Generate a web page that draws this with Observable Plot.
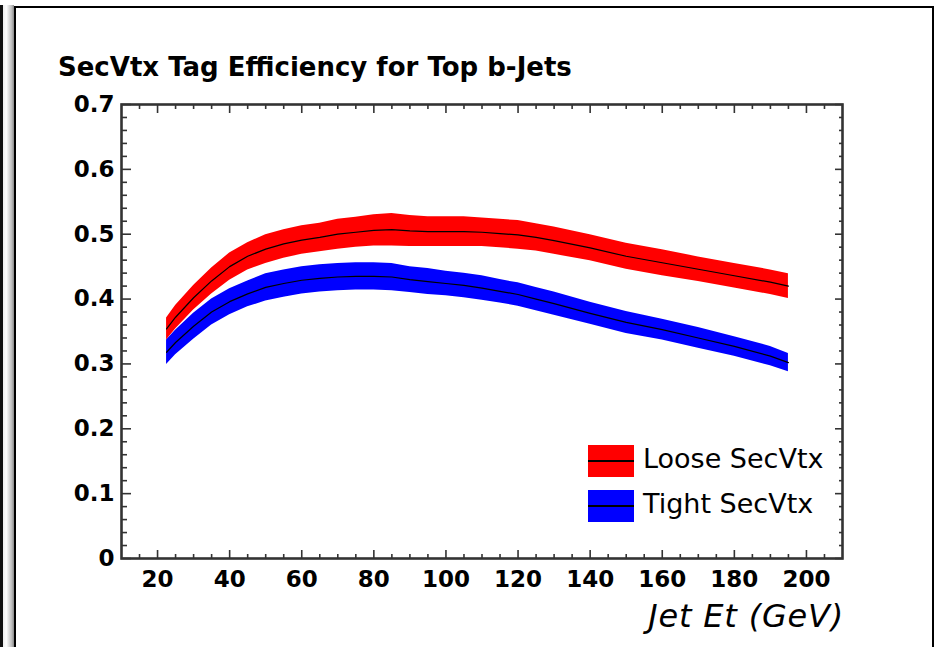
<!DOCTYPE html>
<html>
<head>
<meta charset="utf-8">
<script src="https://cdn.jsdelivr.net/npm/d3@7"></script>
<script src="https://cdn.jsdelivr.net/npm/@observablehq/plot@0.6"></script>
<style>
  body { margin: 0; background: #fff; }
  #page { position: relative; width: 934px; height: 647px; overflow: hidden; background: #fff; }
  .abs { position: absolute; }
  #title { left: 58px; top: 54px; font: bold 26px/26px "DejaVu Sans", sans-serif; color: #000; white-space: nowrap; }
  #xlabel { right: 90px; top: 600px; font: oblique 32px/32px "DejaVu Sans", sans-serif; letter-spacing: 0.8px; color: #000; white-space: nowrap; }
  .lg-box { position: absolute; width: 46px; height: 32px; }
  .lg-box::after { content: ""; position: absolute; left: 0; right: 0; top: 15px; height: 1.5px; background: #000; }
  .lg-text { position: absolute; font: 27px/27px "DejaVu Sans", sans-serif; color: #000; white-space: nowrap; }
  #chart { position: absolute; left: 0; top: 90px; }
</style>
</head>
<body>
<div id="page">
  <div class="abs" style="left:0;top:5px;width:3px;height:642px;background:#111"></div>
  <div class="abs" style="left:3px;top:5px;width:11px;height:642px;background:linear-gradient(to right,#eee,#fff 30%,#bbb 80%,#888)"></div>
  <div class="abs" style="left:14px;top:6px;width:916px;height:660px;border:2px solid #000"></div>
  <div id="title" class="abs">SecVtx Tag Efficiency for Top b-Jets</div>
  <div id="chart"></div>
  <div id="legend"></div>
  <div id="xlabel" class="abs">Jet Et (GeV)</div>
</div>
<script>
// ---- data ----
const Et = [22.5, 25, 30, 35, 40, 45, 50, 55, 60, 65, 70, 75, 80, 85, 90, 95, 100, 105, 110, 115, 120, 125, 130, 140, 150, 160, 170, 180, 190, 195];
const looseEff = [0.354, 0.372, 0.402, 0.428, 0.450, 0.466, 0.477, 0.485, 0.491, 0.495, 0.500, 0.503, 0.506, 0.507, 0.505, 0.504, 0.504, 0.504, 0.503, 0.501, 0.499, 0.495, 0.490, 0.479, 0.466, 0.456, 0.446, 0.436, 0.426, 0.420];
const looseErr = [0.017, 0.018, 0.019, 0.020, 0.021, 0.021, 0.022, 0.022, 0.022, 0.022, 0.023, 0.023, 0.024, 0.025, 0.024, 0.023, 0.023, 0.023, 0.022, 0.022, 0.022, 0.021, 0.021, 0.020, 0.020, 0.020, 0.019, 0.019, 0.019, 0.019];
const tightEff = [0.318, 0.333, 0.358, 0.380, 0.396, 0.408, 0.418, 0.424, 0.429, 0.432, 0.434, 0.435, 0.435, 0.434, 0.430, 0.427, 0.424, 0.421, 0.417, 0.412, 0.407, 0.400, 0.393, 0.378, 0.364, 0.353, 0.340, 0.327, 0.312, 0.302];
const tightErr = [0.019, 0.019, 0.020, 0.020, 0.020, 0.020, 0.021, 0.021, 0.021, 0.021, 0.021, 0.021, 0.021, 0.021, 0.020, 0.020, 0.019, 0.019, 0.019, 0.018, 0.018, 0.018, 0.018, 0.017, 0.017, 0.016, 0.016, 0.015, 0.015, 0.014];
const seriesNames = ["Loose SecVtx", "Tight SecVtx"];
const seriesColors = ["#ff0000", "#0000ff"];
const xTicks = [20, 40, 60, 80, 100, 120, 140, 160, 180, 200];
const xMinorTicks = [15, 25, 30, 35, 45, 50, 55, 65, 70, 75, 85, 90, 95, 105, 110, 115, 125, 130, 135, 145, 150, 155, 165, 170, 175, 185, 190, 195, 205];
const yTicks = [0, 0.1, 0.2, 0.3, 0.4, 0.5, 0.6, 0.7];
const yTickLabels = ["0", "0.1", "0.2", "0.3", "0.4", "0.5", "0.6", "0.7"];
const yMinorTicks = [0.02, 0.04, 0.06, 0.08, 0.12, 0.14, 0.16, 0.18, 0.22, 0.24, 0.26, 0.28, 0.32, 0.34, 0.36, 0.38, 0.42, 0.44, 0.46, 0.48, 0.52, 0.54, 0.56, 0.58, 0.62, 0.64, 0.66, 0.68];

const loose = Et.map((e, i) => ({Et: e, eff: looseEff[i], lo: looseEff[i] - looseErr[i], hi: looseEff[i] + looseErr[i]}));
const tight = Et.map((e, i) => ({Et: e, eff: tightEff[i], lo: tightEff[i] - tightErr[i], hi: tightEff[i] + tightErr[i]}));

const axisColor = "#333";
const tickOpts = {stroke: axisColor, strokeWidth: 1.6, tickFormat: () => "", label: null};

const chart = Plot.plot({
  width: 934,
  height: 557,
  marginLeft: 121,
  marginRight: 92,
  marginTop: 14,
  marginBottom: 89,
  style: {background: "transparent", overflow: "visible", fontFamily: "DejaVu Sans, sans-serif", fontSize: "23px", fontWeight: "bold", color: "#000"},
  x: {domain: [10, 210]},
  y: {domain: [0, 0.7]},
  marks: [
    Plot.areaY(loose, {x: "Et", y1: "lo", y2: "hi", fill: seriesColors[0]}),
    Plot.lineY(loose, {x: "Et", y: "eff", stroke: "#000", strokeWidth: 1.2}),
    Plot.areaY(tight, {x: "Et", y1: "lo", y2: "hi", fill: seriesColors[1]}),
    Plot.lineY(tight, {x: "Et", y: "eff", stroke: "#000", strokeWidth: 1.2}),
    // inward ticks (ROOT style), mirrored on all four sides
    Plot.axisX(xTicks, {anchor: "bottom", tickSize: -8, ...tickOpts}),
    Plot.axisX(xMinorTicks, {anchor: "bottom", tickSize: -4, ...tickOpts}),
    Plot.axisX(xTicks, {anchor: "top", tickSize: -8, ...tickOpts}),
    Plot.axisX(xMinorTicks, {anchor: "top", tickSize: -4, ...tickOpts}),
    Plot.axisY(yTicks, {anchor: "left", tickSize: -10, ...tickOpts}),
    Plot.axisY(yMinorTicks, {anchor: "left", tickSize: -6, ...tickOpts}),
    Plot.axisY(yTicks, {anchor: "right", tickSize: -8, ...tickOpts}),
    Plot.axisY(yMinorTicks, {anchor: "right", tickSize: -4, ...tickOpts}),
    // labels
    Plot.axisX(xTicks, {anchor: "bottom", tickSize: 0, tickPadding: 12, tickFormat: d => String(d), label: null, fill: "#000"}),
    Plot.axisY(yTicks, {anchor: "left", tickSize: 0, tickPadding: 7, tickFormat: (d) => yTickLabels[yTicks.indexOf(d)], label: null, fill: "#000"}),
    Plot.frame({stroke: axisColor, strokeWidth: 2.6})
  ]
});
document.getElementById("chart").appendChild(chart);

// legend (HTML, drawn over the plot area)
const legend = document.getElementById("legend");
const legendTops = [445, 490];
seriesNames.forEach((name, i) => {
  const box = document.createElement("div");
  box.className = "lg-box";
  box.style.left = "588px";
  box.style.top = legendTops[i] + "px";
  box.style.background = seriesColors[i];
  legend.appendChild(box);
  const t = document.createElement("div");
  t.className = "lg-text";
  t.style.left = "643px";
  t.style.top = legendTops[i] + "px";
  t.textContent = name;
  legend.appendChild(t);
});
</script>
</body>
</html>
